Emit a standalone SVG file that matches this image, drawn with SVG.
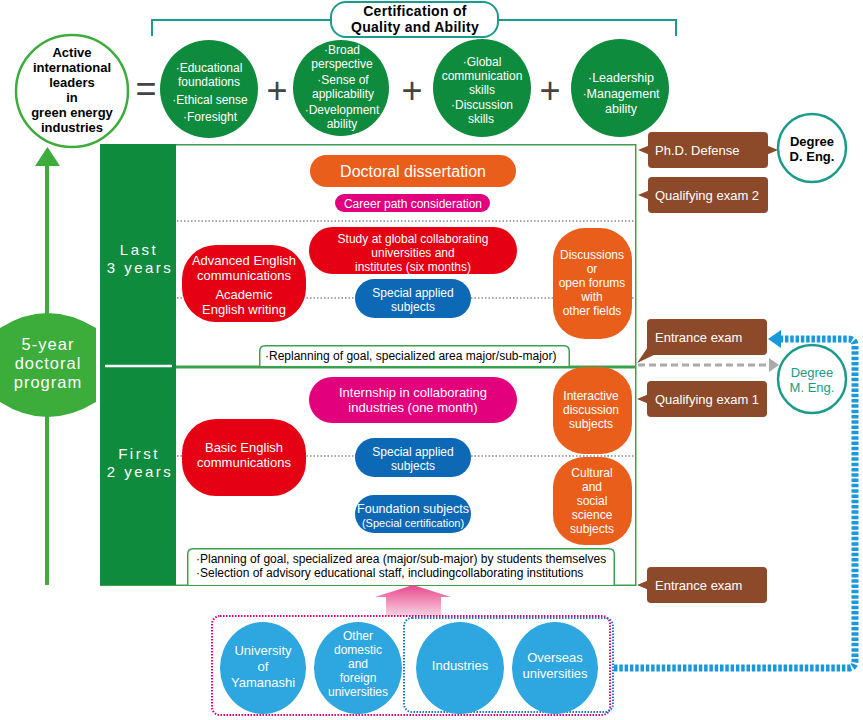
<svg xmlns="http://www.w3.org/2000/svg" width="863" height="720" viewBox="0 0 863 720">
<defs>
<style>
text{font-family:"Liberation Sans",Arial,sans-serif}
.c{text-anchor:middle}
.w{fill:#fff}
.b{font-weight:bold}
.s13{font-size:13px}
.s12{font-size:12px}
.gc{fill:#0f8b3d}
.org{fill:#ea5e1c}
.red{fill:#e60013}
.mag{fill:#e3007d}
.blu{fill:#0d69b6}
.brn{fill:#8d4a2b}
.lb{fill:#2ea6df}
.pb{fill:#fff;stroke:#3aa14f;stroke-width:1.5}
.dot{stroke:#8a8a8a;stroke-width:1.5;stroke-dasharray:1.5 2;fill:none}
.sign{font-size:36px;fill:#444}
</style>
<linearGradient id="pinkg" x1="0" y1="0" x2="0" y2="1">
<stop offset="0" stop-color="#e8478c"/>
<stop offset="1" stop-color="#fad3e3"/>
</linearGradient>
</defs>
<rect width="863" height="720" fill="#fff"/>

<!-- panels -->
<g id="panels">
<rect class="pb" x="100.75" y="144.75" width="535" height="221.5"/>
<rect class="pb" x="100.75" y="367.75" width="535" height="217.5"/>
<rect x="100" y="144" width="76" height="441" class="gc"/>
<line x1="105" y1="366" x2="172" y2="366" stroke="#fff" stroke-width="2.5"/>
<text class="w c" x="139" y="255" font-size="15" letter-spacing="2.5">Last</text>
<text class="w c" x="140" y="273" font-size="15" letter-spacing="2.5">3 years</text>
<text class="w c" x="139" y="459" font-size="15" letter-spacing="2.5">First</text>
<text class="w c" x="140" y="477" font-size="15" letter-spacing="2.5">2 years</text>
</g>

<g id="dividers">
<line class="dot" x1="177" y1="221" x2="635" y2="221"/>
<line class="dot" x1="177" y1="298" x2="635" y2="298"/>
<line class="dot" x1="177" y1="456" x2="635" y2="456"/>
</g>

<g id="connectors">
<path d="M152,36 V20 H676 V36" fill="none" stroke="#1b9b8c" stroke-width="2"/>
<line x1="47" y1="585" x2="47" y2="162" stroke="#3cac3a" stroke-width="4"/>
<polygon points="35,166 47.5,147 60,166" fill="#3cac3a"/>
<polygon points="413,585 451,597 441,597 441,616 386,616 386,597 375,597" fill="url(#pinkg)"/>
<line x1="638" y1="365" x2="770" y2="365" stroke="#aaa" stroke-width="3" stroke-dasharray="7 4"/>
<polygon points="769,358 779,365 769,372" fill="#aaa"/>
<path d="M614,668 H848 Q855,668 855,661 V346 Q855,339 848,339 H780" fill="none" stroke="#1a98dc" stroke-width="7" stroke-dasharray="3.5 1.8"/>
<polygon points="768,339 781,330 781,348" fill="#1a98dc"/>
</g>

<g id="certification">
<rect x="331" y="2" width="167" height="35" rx="15" fill="#fff" stroke="#1b9b8c" stroke-width="2"/>
<text class="c b" x="415" y="16" font-size="14" letter-spacing="0.3">Certification of</text>
<text class="c b" x="415" y="32.2" font-size="14" letter-spacing="0.3">Quality and Ability</text>
</g>

<g id="active-leaders">
<circle cx="72" cy="91" r="56" fill="#fff" stroke="#3cac3a" stroke-width="2.5"/>
<g class="c b" font-size="13">
<text x="72" y="57">Active</text>
<text x="72" y="72">international</text>
<text x="72" y="87">leaders</text>
<text x="72" y="102">in</text>
<text x="72" y="117">green energy</text>
<text x="72" y="132">industries</text>
</g>
</g>

<text class="sign c" x="146" y="101" font-size="30">=</text>
<text class="sign c" x="277" y="103">+</text>
<text class="sign c" x="412" y="103">+</text>
<text class="sign c" x="550" y="103">+</text>

<g id="quality-1">
<circle cx="209" cy="89" r="49" class="gc"/>
<g class="w c s12">
<text x="209" y="72">·Educational</text>
<text x="209" y="86">foundations</text>
<text x="210" y="104">·Ethical sense</text>
<text x="210" y="121">·Foresight</text>
</g>
</g>
<g id="quality-2">
<circle cx="341" cy="88" r="48" class="gc"/>
<g class="w c s12">
<text x="342" y="54">·Broad</text>
<text x="342" y="68">perspective</text>
<text x="343" y="84">·Sense of</text>
<text x="343" y="98">applicability</text>
<text x="342" y="114">·Development</text>
<text x="342" y="128">ability</text>
</g>
</g>
<g id="quality-3">
<circle cx="482" cy="88" r="49" class="gc"/>
<g class="w c s12">
<text x="482" y="66">·Global</text>
<text x="482" y="80">communication</text>
<text x="482" y="94">skills</text>
<text x="482" y="109">·Discussion</text>
<text x="481" y="123">skills</text>
</g>
</g>
<g id="quality-4">
<circle cx="620" cy="88" r="49" class="gc"/>
<g class="w c" font-size="12.5">
<text x="621" y="82">·Leadership</text>
<text x="621" y="98">·Management</text>
<text x="621" y="112.5">ability</text>
</g>
</g>

<!-- upper panel items -->
<g id="doctoral-dissertation">
<rect x="310" y="155" width="206" height="32" rx="16" class="org"/>
<text class="w c" x="413" y="177" font-size="16">Doctoral dissertation</text>
</g>
<g id="career-path">
<rect x="335" y="194" width="155" height="18" rx="9" class="mag"/>
<text class="w c s12" x="413" y="207.5">Career path consideration</text>
</g>
<g id="study-global">
<rect x="309" y="227" width="208" height="47" rx="23.5" class="red"/>
<g class="w c s12">
<text x="413" y="243">Study at global collaborating</text>
<text x="413" y="257">universities and</text>
<text x="413" y="271">institutes (six months)</text>
</g>
</g>
<g id="special-applied-upper">
<rect x="355" y="279" width="116" height="39" rx="19.5" class="blu"/>
<g class="w c s12">
<text x="413" y="297">Special applied</text>
<text x="413" y="311">subjects</text>
</g>
</g>
<g id="advanced-english">
<rect x="182" y="245" width="124" height="77" rx="34" ry="34" class="red"/>
<g class="w c s13">
<text x="244" y="265">Advanced English</text>
<text x="244" y="280">communications</text>
<text x="244" y="299">Academic</text>
<text x="244" y="314">English writing</text>
</g>
</g>
<g id="discussions">
<rect x="553" y="228" width="79" height="111" rx="32" ry="32" class="org"/>
<g class="w c s12">
<text x="592" y="259">Discussions</text>
<text x="592" y="273">or</text>
<text x="592" y="287">open forums</text>
<text x="592" y="301">with</text>
<text x="592" y="315">other fields</text>
</g>
</g>
<g id="replanning">
<path d="M259.75,366 V351 Q259.75,345.75 265,345.75 H564 Q569.25,345.75 569.25,351 V366" fill="#fff" stroke="#3aa14f" stroke-width="1.5"/>
<text class="s12" x="265" y="360">·Replanning of goal, specialized area major/sub-major)</text>
</g>

<!-- lower panel items -->
<g id="internship">
<rect x="309" y="377" width="208" height="46" rx="23" class="mag"/>
<g class="w c s13">
<text x="413" y="397">Internship in collaborating</text>
<text x="413" y="412">industries (one month)</text>
</g>
</g>
<g id="basic-english">
<rect x="182" y="419" width="124" height="77" rx="34" ry="34" class="red"/>
<g class="w c s13">
<text x="244" y="452">Basic English</text>
<text x="244" y="467">communications</text>
</g>
</g>
<g id="special-applied-lower">
<rect x="355" y="438" width="116" height="39" rx="19.5" class="blu"/>
<g class="w c s12">
<text x="413" y="456">Special applied</text>
<text x="413" y="470">subjects</text>
</g>
</g>
<g id="foundation">
<rect x="355" y="495" width="116" height="38" rx="19" class="blu"/>
<text class="w c" x="413" y="512.5" font-size="12.5">Foundation subjects</text>
<text class="w c" x="413" y="527" font-size="11">(Special certification)</text>
</g>
<g id="interactive">
<rect x="553" y="367" width="79" height="87" rx="32" ry="30" class="org"/>
<g class="w c s12">
<text x="591" y="400">Interactive</text>
<text x="591" y="414">discussion</text>
<text x="591" y="428">subjects</text>
</g>
</g>
<g id="cultural">
<rect x="553" y="457" width="79" height="88" rx="32" ry="30" class="org"/>
<g class="w c s12">
<text x="592" y="477">Cultural</text>
<text x="592" y="491">and</text>
<text x="592" y="505">social</text>
<text x="592" y="519">science</text>
<text x="592" y="533">subjects</text>
</g>
</g>
<g id="planning">
<path d="M187.75,585 V554 Q187.75,548.75 193,548.75 H609 Q614.25,548.75 614.25,554 V585" fill="#fff" stroke="#3aa14f" stroke-width="1.5"/>
<text class="s12" x="196" y="563">·Planning of goal, specialized area (major/sub-major) by students themselves</text>
<text class="s12" x="196" y="577">·Selection of advisory educational staff, includingcollaborating institutions</text>
</g>

<!-- brown exam boxes -->
<g id="phd-defense">
<polygon points="650,145 638,150 650,155" class="brn"/>
<polygon points="766,145 778,150 766,155" class="brn"/>
<rect x="648" y="132" width="120" height="36" rx="4" class="brn"/>
<text class="w s13" x="655" y="155">Ph.D. Defense</text>
</g>
<g id="qualifying-2">
<polygon points="650,190 638,195 650,200" class="brn"/>
<rect x="648" y="177" width="120" height="36" rx="4" class="brn"/>
<text class="w s13" x="655" y="200">Qualifying exam 2</text>
</g>
<g id="entrance-upper">
<polygon points="648,347 637,363 656,354" class="brn"/>
<rect x="647" y="319" width="120" height="36" rx="4" class="brn"/>
<text class="w s13" x="655" y="342">Entrance exam</text>
</g>
<g id="qualifying-1">
<polygon points="649,394 637,399 649,404" class="brn"/>
<rect x="647" y="381" width="120" height="36" rx="4" class="brn"/>
<text class="w s13" x="655" y="404">Qualifying exam 1</text>
</g>
<g id="entrance-lower">
<polygon points="649,580 637,585 649,590" class="brn"/>
<rect x="647" y="567" width="120" height="36" rx="4" class="brn"/>
<text class="w s13" x="655" y="590">Entrance exam</text>
</g>

<g id="degree-d">
<circle cx="812" cy="148" r="34" fill="#fff" stroke="#1b9b8c" stroke-width="2.5"/>
<text class="c b s13" x="812" y="146">Degree</text>
<text class="c b s13" x="812" y="161">D. Eng.</text>
</g>
<g id="degree-m">
<circle cx="812" cy="379" r="34" fill="#fff" stroke="#1b9b8c" stroke-width="2.5"/>
<text class="c s13" x="812" y="377" fill="#1b9b8c">Degree</text>
<text class="c s13" x="812" y="392" fill="#1b9b8c">M. Eng.</text>
</g>

<g id="program-5year">
<path d="M0,328 Q47,298 96,328 L96,402 Q47,432 0,402 Z" fill="#3cac3a"/>
<g class="w c" font-size="16.5" letter-spacing="1">
<text x="48" y="350">5-year</text>
<text x="48" y="369">doctoral</text>
<text x="48" y="388">program</text>
</g>
</g>

<!-- sources -->
<g id="source-groups">
<rect x="212" y="616" width="398" height="99" rx="8" fill="none" stroke="#e3007d" stroke-width="2" stroke-dasharray="1.5 1.5"/>
<rect x="404" y="618" width="209" height="94" rx="8" fill="none" stroke="#1e78c8" stroke-width="2" stroke-dasharray="1.5 1.5"/>
</g>
<g id="univ-yamanashi">
<ellipse cx="263" cy="668" rx="43" ry="46" class="lb"/>
<g class="w c s13">
<text x="263" y="655">University</text>
<text x="263" y="671">of</text>
<text x="263" y="687">Yamanashi</text>
</g>
</g>
<g id="other-universities">
<ellipse cx="358" cy="668" rx="44" ry="46" class="lb"/>
<g class="w c s12">
<text x="358" y="640">Other</text>
<text x="358" y="654">domestic</text>
<text x="358" y="668">and</text>
<text x="358" y="682">foreign</text>
<text x="358" y="696">universities</text>
</g>
</g>
<g id="industries">
<ellipse cx="460" cy="668" rx="44" ry="46" class="lb"/>
<text class="w c s13" x="460" y="670">Industries</text>
</g>
<g id="overseas">
<ellipse cx="555" cy="668" rx="43" ry="46" class="lb"/>
<g class="w c s13">
<text x="555" y="662">Overseas</text>
<text x="555" y="678">universities</text>
</g>
</g>
</svg>
